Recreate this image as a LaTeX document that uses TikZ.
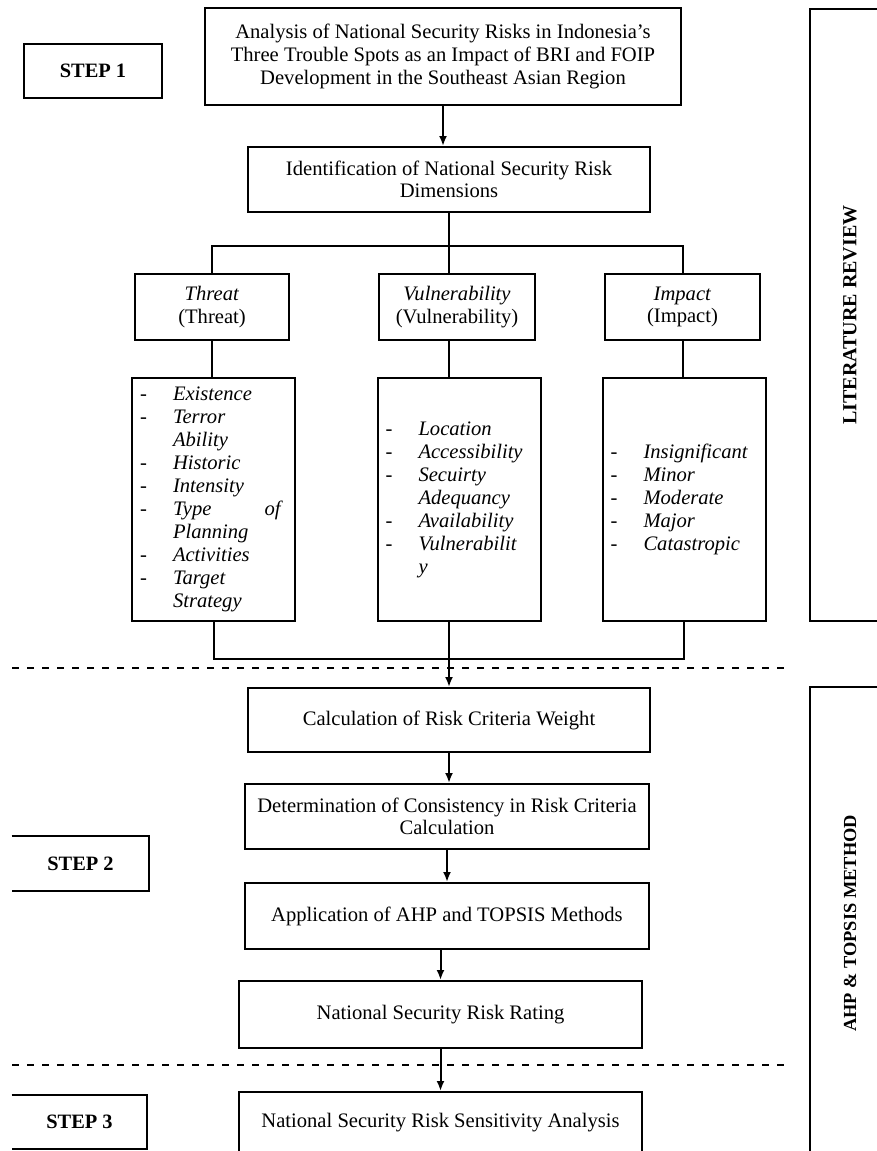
\documentclass[tikz,border=0pt]{standalone}
\usepackage{fontspec}
\setmainfont{Liberation Serif}
\usepackage{array}
\usetikzlibrary{arrows.meta}
\usetikzlibrary{calc}

\tikzset{
  box/.style={draw, line width=1pt, align=center, inner sep=2pt, font=\fontsize{10.3}{11.3}\selectfont},
  stepbox/.style={font=\bfseries\fontsize{10.2}{12}\selectfont, inner sep=0pt},
  sidebox/.style={draw, line width=1pt, rotate=90, minimum height=40pt, inner sep=0pt},
  listbox/.style={draw, line width=1pt, inner xsep=0pt, inner ysep=0pt, text width=81.5pt, minimum height=121.5pt, font=\fontsize{10.3}{11.5}\selectfont},
  flow/.style={-{Latex[length=5pt,width=4pt]}, line width=1pt},
  link/.style={line width=1pt},
  sep/.style={line width=1pt, dash pattern=on 3.5pt off 4pt}
}
\newcommand{\risklist}[1]{\begin{tabular}{@{\hspace{4pt}}p{16.5pt}@{}p{55pt}@{}}#1\end{tabular}}

\begin{document}
\begin{tikzpicture}[x=0.5pt, y=-0.5pt]
		\useasboundingbox (0,0) rectangle (877,1151);
		% step labels
		\node[stepbox, draw, line width=1pt, minimum width=69pt, minimum height=27pt] (step1) at (93,71) {STEP 1};
		\node[stepbox, minimum width=68.5pt, minimum height=27.5pt] (step2) at (80.5,863.5) {STEP 2};
		\node[stepbox, minimum width=67.5pt, minimum height=27pt] (step3) at (79.5,1122) {STEP 3};
		\draw[link] (step2.north west) -- (step2.north east) -- (step2.south east) -- (step2.south west);
		\draw[link] (step3.north west) -- (step3.north east) -- (step3.south east) -- (step3.south west);
		% side bars
		\node[sidebox, minimum width=306pt, font=\bfseries\fontsize{10}{12}\selectfont] (litrev) at (850,315) {LITERATURE REVIEW};
		\node[sidebox, minimum width=236.5pt, font=\bfseries\fontsize{9.2}{12}\selectfont] (ahptop) at (850,923.5) {AHP \& TOPSIS METHOD};
		% step 1
		\node[box, minimum width=238pt, minimum height=48.5pt] (analysis) at (443,56.5) {Analysis of National Security Risks in Indonesia's\\Three Trouble Spots as an Impact of BRI and FOIP\\Development in the Southeast Asian Region};
		\node[box, minimum width=201pt, minimum height=32.5pt] (ident) at (449,179.5) {Identification of National Security Risk\\Dimensions};
		\node[box, minimum width=77pt, minimum height=33pt] (thead) at (212,307) {\textit{Threat}\\(Threat)};
		\node[box, minimum width=78pt, minimum height=33pt] (vhead) at (457,307) {\textit{Vulnerability}\\(Vulnerability)};
		\node[box, minimum width=77.5pt, minimum height=33pt] (ihead) at (682.5,307) {\textit{Impact}\\(Impact)};
		\node[listbox] (tlist) at (213.5,499.5) {\risklist{%
			- & \textit{Existence}\\
			- & \textit{Terror}\\
			  & \textit{Ability}\\
			- & \textit{Historic}\\
			- & \textit{Intensity}\\
			- & \textit{Type}\hfill\textit{of}\\
			  & \textit{Planning}\\
			- & \textit{Activities}\\
			- & \textit{Target}\\
			  & \textit{Strategy}\\}};
		\node[listbox] (vlist) at (459,499.5) {\risklist{%
			- & \textit{Location}\\
			- & \textit{Accessibility}\\
			- & \textit{Secuirty}\\
			  & \textit{Adequancy}\\
			- & \textit{Availability}\\
			- & \textit{Vulnerabilit}\\
			  & \textit{y}\\}};
		\node[listbox] (ilist) at (684,499.5) {\risklist{%
			- & \textit{Insignificant}\\
			- & \textit{Minor}\\
			- & \textit{Moderate}\\
			- & \textit{Major}\\
			- & \textit{Catastropic}\\}};
		\coordinate (bus) at (449,246);
		\coordinate (join) at (449,659);
		\draw[flow] (analysis.south) -- (analysis.south |- ident.north);
		\draw[link] (ident.south) -- (bus);
		\draw[link] (thead.north) |- (bus) -| (ihead.north);
		\draw[link] (bus) -- (bus |- vhead.north);
		\draw[link] (thead.south) -- (thead.south |- tlist.north);
		\draw[link] (bus |- vhead.south) -- (bus |- vlist.north);
		\draw[link] (ihead.south) -- (ihead.south |- ilist.north);
		\draw[link] (tlist.south) |- (join) -| (ilist.south);
		\draw[link] (bus |- vlist.south) -- (join);
		% dashed separators
		\draw[sep] (12,668) -- (790,668);
		\draw[sep] (12,1065) -- (790,1065);
		% step 2 and 3
		\node[box, minimum width=201pt, minimum height=32pt] (calc) at (449,720) {Calculation of Risk Criteria Weight};
		\node[box, minimum width=202pt, minimum height=32.5pt] (determ) at (447,816.5) {Determination of Consistency in Risk Criteria\\Calculation};
		\node[box, minimum width=202pt, minimum height=33pt] (appl) at (447,916) {Application of AHP and TOPSIS Methods};
		\node[box, minimum width=201.5pt, minimum height=33.5pt] (rating) at (440.5,1014.5) {National Security Risk Rating};
		\node[box, minimum width=201.5pt, minimum height=31pt] (sens) at (440.5,1123) {National Security Risk Sensitivity Analysis};
		\draw[flow] (join) -- (join |- calc.north);
		\draw[flow] (calc.south) -- (calc.south |- determ.north);
		\draw[flow] (determ.south) -- (determ.south |- appl.north);
		\draw[flow] (rating.north |- appl.south) -- (rating.north);
		\draw[flow] (rating.south) -- (rating.south |- sens.north);
\end{tikzpicture}
\end{document}
